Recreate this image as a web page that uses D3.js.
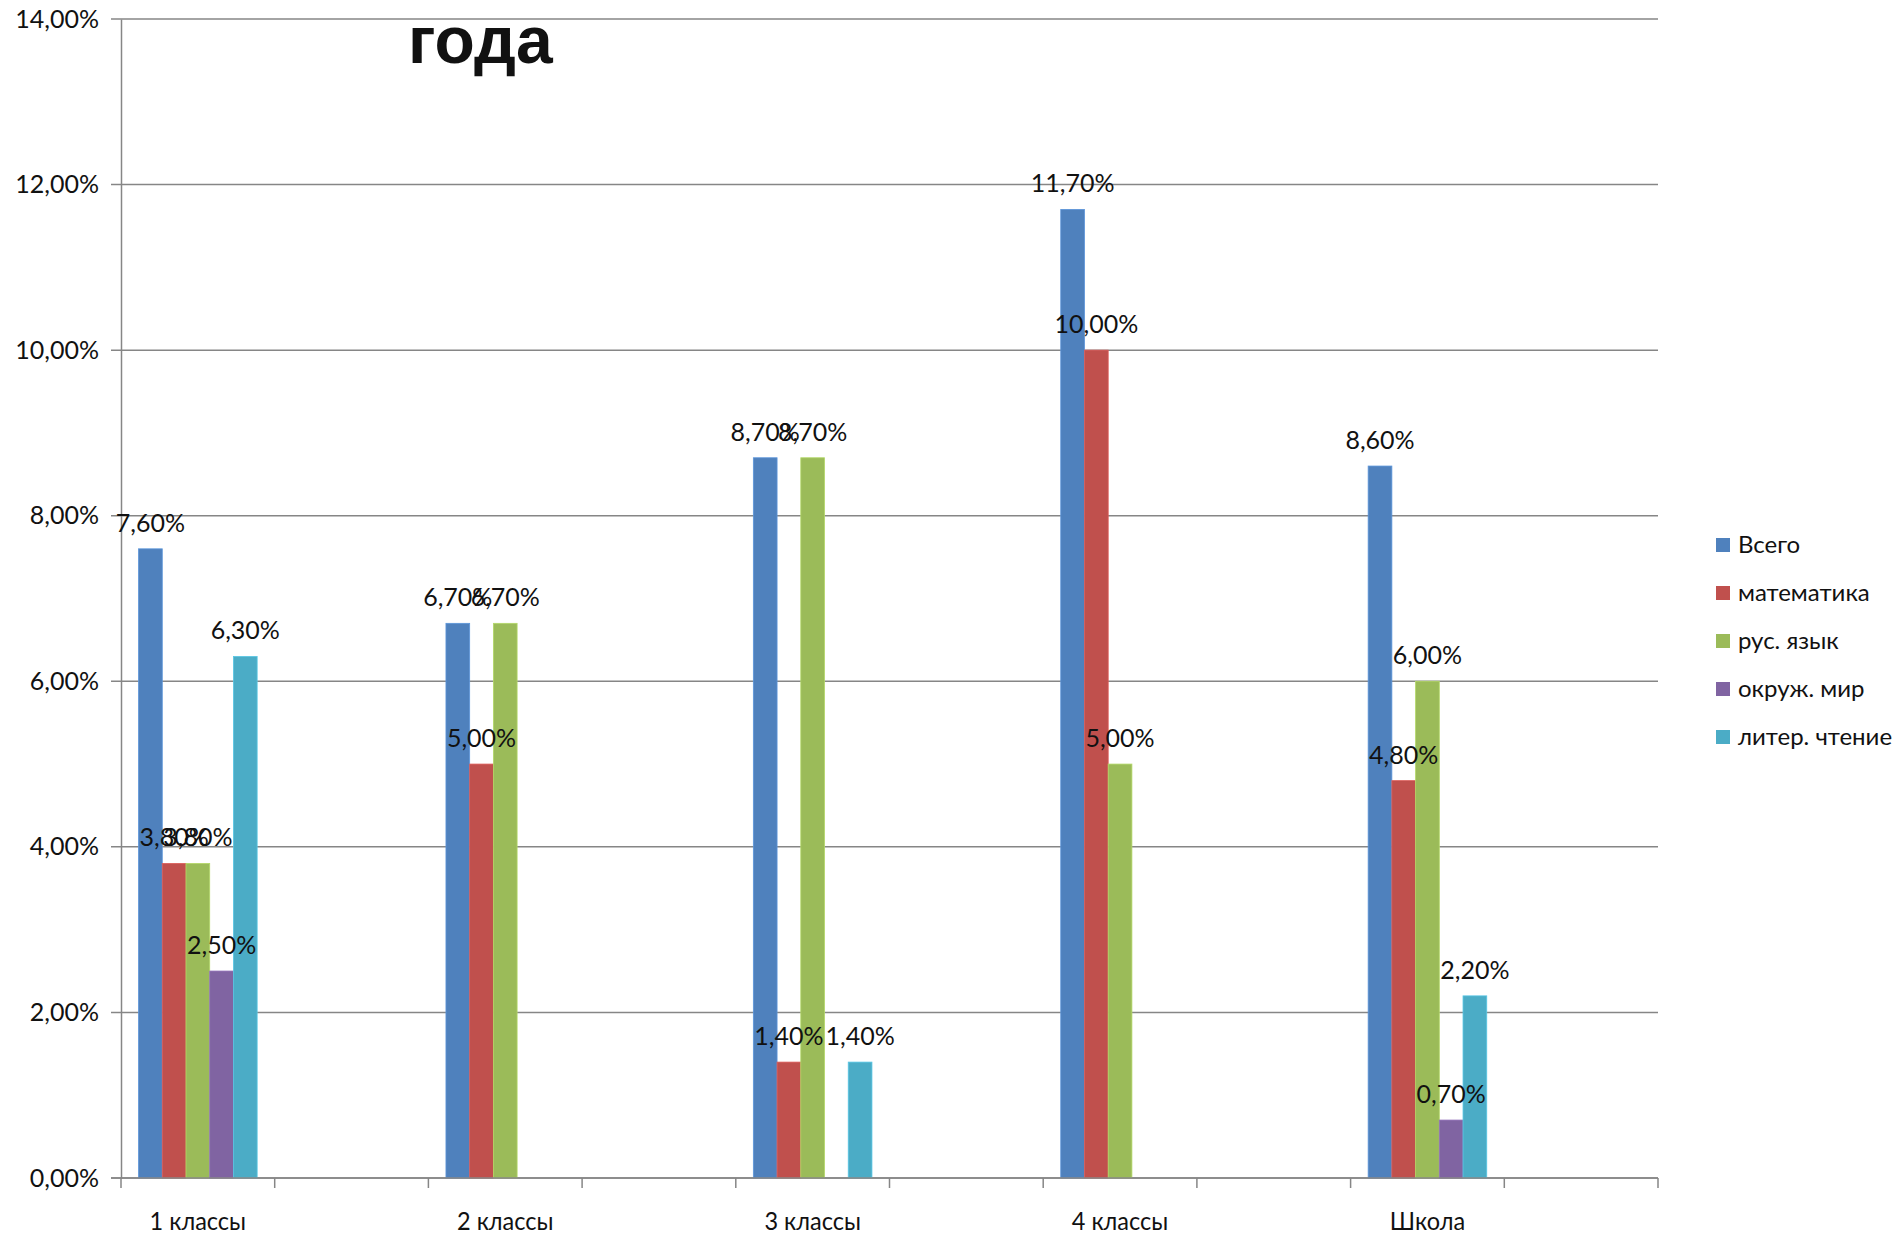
<!DOCTYPE html>
<html>
<head>
<meta charset="utf-8">
<script src="https://cdn.jsdelivr.net/npm/d3@7"></script>
<style>
  body { margin: 0; background: #fff; }
  text { font-family: Lato, "Open Sans", sans-serif; fill: #111; }
</style>
</head>
<body>
<div id="chart"></div>
<script>
// Data
var categories = ["1 классы", "2 классы", "3 классы", "4 классы", "Школа"];
var seriesNames = ["Всего", "математика", "рус. язык", "окруж. мир", "литер. чтение"];
var seriesColors = ["#4F81BD", "#C0504D", "#9BBB59", "#8064A2", "#4BACC6"];
var vsego = [7.6, 6.7, 8.7, 11.7, 8.6];
var matem = [3.8, 5.0, 1.4, 10.0, 4.8];
var rusYaz = [3.8, 6.7, 8.7, 5.0, 6.0];
var okrMir = [2.5, null, null, null, 0.7];
var litChtenie = [6.3, null, 1.4, null, 2.2];
var yTicks = [0, 2, 4, 6, 8, 10, 12, 14];

var seriesValues = [vsego, matem, rusYaz, okrMir, litChtenie];

// Setup
var svgWidth = 1895;
var svgHeight = 1234;
var margin = { top: 19, right: 237, bottom: 56, left: 121 };
var width = svgWidth - margin.left - margin.right;
var height = svgHeight - margin.top - margin.bottom;

var svg = d3.select("#chart")
    .append("svg")
    .attr("width", svgWidth)
    .attr("height", svgHeight);

var chartGroup = svg.append("g")
    .attr("transform", `translate(${margin.left}, ${margin.top})`);

var fmt = function(v) { return v.toFixed(2).replace(".", ",") + "%"; };

// Scales
var x = d3.scaleBand().domain(categories).range([0, width]);
var xInner = d3.scaleBand().domain(seriesNames)
    .range([0, x.bandwidth() / 2])
    .paddingInner(0)
    .paddingOuter(0.74);
var y = d3.scaleLinear().domain([0, 14]).range([height, 0]);

// Gridlines
chartGroup.append("g")
    .selectAll("line")
    .data(yTicks)
    .enter()
    .append("line")
    .attr("x1", -10)
    .attr("x2", width)
    .attr("y1", d => y(d))
    .attr("y2", d => y(d))
    .attr("stroke", "#868686")
    .attr("stroke-width", 1.5);

// Y axis
var leftAxis = d3.axisLeft(y)
    .tickValues(yTicks)
    .tickSize(0)
    .tickPadding(22)
    .tickFormat(fmt);

var yAxisG = chartGroup.append("g").call(leftAxis);
yAxisG.select(".domain").attr("stroke", "#868686").attr("stroke-width", 1.5);
yAxisG.selectAll("text")
    .style("font-size", "25px")
    .style("font-family", "Lato, sans-serif")
    .attr("fill", "#111");

// Bars
seriesNames.forEach(function(name, si) {
    var pts = categories.map(function(c, ci) {
        return { cat: c, v: seriesValues[si][ci] };
    }).filter(d => d.v !== null);

    chartGroup.selectAll(".bar" + si)
        .data(pts)
        .enter()
        .append("rect")
        .attr("x", d => x(d.cat) + xInner(name))
        .attr("y", d => y(d.v))
        .attr("width", xInner.bandwidth())
        .attr("height", d => height - y(d.v))
        .attr("fill", seriesColors[si])
        .attr("stroke", d3.color(seriesColors[si]).brighter(0.4))
        .attr("stroke-width", 0.8);
});

// Data labels
seriesNames.forEach(function(name, si) {
    var pts = categories.map(function(c, ci) {
        return { cat: c, v: seriesValues[si][ci] };
    }).filter(d => d.v !== null);

    chartGroup.selectAll(".lbl" + si)
        .data(pts)
        .enter()
        .append("text")
        .attr("x", d => x(d.cat) + xInner(name) + xInner.bandwidth() / 2)
        .attr("y", d => y(d.v) - 17)
        .attr("text-anchor", "middle")
        .style("font-size", "25px")
        .text(d => fmt(d.v));
});

// X axis line and ticks
chartGroup.append("line")
    .attr("x1", -10)
    .attr("x2", width)
    .attr("y1", height)
    .attr("y2", height)
    .attr("stroke", "#868686")
    .attr("stroke-width", 1.5);

var tickPos = d3.range(0, categories.length * 2 + 1).map(i => i * x.bandwidth() / 2);
chartGroup.append("g")
    .selectAll("line")
    .data(tickPos)
    .enter()
    .append("line")
    .attr("x1", d => d)
    .attr("x2", d => d)
    .attr("y1", height)
    .attr("y2", height + 10)
    .attr("stroke", "#868686")
    .attr("stroke-width", 1.5);

chartGroup.append("g")
    .selectAll("text")
    .data(categories)
    .enter()
    .append("text")
    .attr("x", d => x(d) + x.bandwidth() / 4)
    .attr("y", height + 52)
    .attr("text-anchor", "middle")
    .style("font-size", "24px")
    .attr("transform-origin", d => `${x(d) + x.bandwidth() / 4}px ${height + 52}px`)
    .attr("transform", "scale(0.98, 1.08)")
    .text(d => d);

// Title fragment
svg.append("text")
    .attr("x", 408)
    .attr("y", 63)
    .style("font-family", "'Liberation Sans', Arial, sans-serif")
    .style("font-weight", "bold")
    .style("font-size", "66px")
    .attr("fill", "#000")
    .text("года");

// Legend
var legend = svg.append("g")
    .attr("transform", "translate(1716, 545)");

var legendItems = legend.selectAll("g")
    .data(seriesNames)
    .enter()
    .append("g")
    .attr("transform", (d, i) => `translate(0, ${i * 48})`);

legendItems.append("rect")
    .attr("x", 0)
    .attr("y", -7)
    .attr("width", 14)
    .attr("height", 14)
    .attr("fill", (d, i) => seriesColors[i]);

legendItems.append("text")
    .attr("x", 22)
    .attr("y", 8)
    .style("font-size", "24px")
    .text(d => d);
</script>
</body>
</html>
